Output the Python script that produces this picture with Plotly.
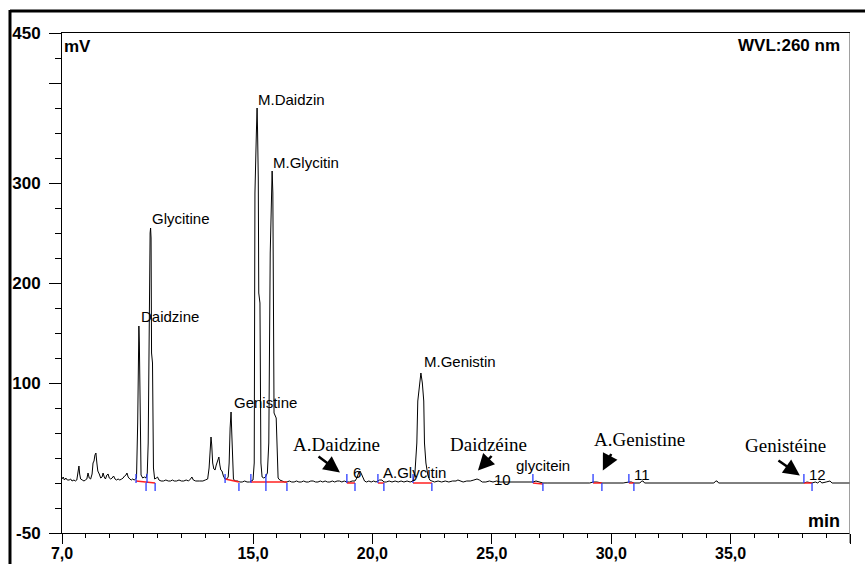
import plotly.graph_objects as go

# ---------------- data ----------------
time_min = [7.00, 7.05, 7.10, 7.16, 7.22, 7.30, 7.36, 7.42, 7.50, 7.56, 7.62, 7.68, 7.71, 7.74, 7.78,
            7.85, 7.92, 7.98, 8.04, 8.09, 8.14, 8.20, 8.26, 8.30, 8.34, 8.38, 8.42, 8.46, 8.50, 8.56,
            8.62, 8.68, 8.72, 8.77, 8.82, 8.88, 8.93, 8.98, 9.04, 9.10, 9.16, 9.22, 9.28, 9.35, 9.42,
            9.50, 9.56, 9.62, 9.68, 9.72, 9.77, 9.84, 9.90, 9.96, 10.02, 10.08,
            10.12, 10.17, 10.20, 10.22, 10.24, 10.27, 10.31, 10.38, 10.45, 10.52, 10.57, 10.61, 10.65,
            10.69, 10.71, 10.73, 10.75, 10.79, 10.83, 10.88, 10.95, 11.00, 11.06, 11.15, 11.25, 11.35,
            11.45, 11.55, 11.62, 11.70, 11.80, 11.90, 12.00, 12.10, 12.20, 12.30, 12.38, 12.44, 12.50,
            12.60, 12.75, 12.90, 13.00, 13.10, 13.16, 13.20, 13.24, 13.27, 13.31, 13.36, 13.41, 13.46,
            13.52, 13.57, 13.61, 13.65, 13.70, 13.76, 13.83, 13.90, 13.96, 14.00, 14.04, 14.08, 14.11,
            14.14, 14.18, 14.25, 14.35, 14.45, 14.55, 14.65, 14.75, 14.85, 14.92,
            15.00, 15.05, 15.08, 15.14, 15.17, 15.19, 15.22, 15.24, 15.29, 15.33, 15.38, 15.45, 15.52,
            15.60, 15.66, 15.72, 15.77, 15.80, 15.83, 15.86, 15.88, 15.97, 16.01, 16.05, 16.12, 16.22,
            16.32, 16.42, 16.52, 16.62, 16.72, 16.82, 16.92, 17.02, 17.12, 17.22, 17.32, 17.42, 17.52,
            17.62, 17.72, 17.82, 17.92, 18.02, 18.12, 18.22, 18.32, 18.42, 18.52, 18.62, 18.72, 18.82,
            18.93, 19.05, 19.15, 19.27, 19.35, 19.42, 19.48, 19.54, 19.60, 19.67, 19.75, 19.85, 19.95,
            20.05, 20.15, 20.23, 20.30, 20.40, 20.48, 20.58, 20.70, 20.82, 20.95, 21.08, 21.20, 21.32,
            21.45, 21.58, 21.70, 21.78, 21.86, 21.90, 21.97, 22.03, 22.09, 22.15, 22.18, 22.24, 22.32,
            22.40, 22.49, 22.60, 22.75, 22.90, 23.05, 23.20, 23.35, 23.50, 23.58, 23.66, 23.80, 23.95,
            24.10, 24.25, 24.38, 24.48, 24.60, 24.75, 24.90, 25.05, 25.20, 25.35, 25.50, 25.70, 25.90,
            26.10, 26.30, 26.50, 26.72, 26.85, 27.00, 27.14, 27.35, 27.60, 27.90, 28.20, 28.50, 28.80,
            29.10, 29.24, 29.40, 29.61, 29.90, 30.20, 30.50, 30.74, 30.85, 30.95, 31.20, 31.28, 31.33,
            31.40, 31.80, 32.30, 32.80, 33.30, 33.80, 34.30, 34.38, 34.43, 34.50, 35.00, 35.50, 36.00,
            36.50, 37.00, 37.50, 38.07, 38.20, 38.41, 38.55, 38.65, 38.74, 38.82, 39.00, 39.16, 39.25,
            39.50, 39.80, 40.00]
signal_mv = [4, 6, 3, 5, 3, 3, 4, 2, 3, 2, 3, 10, 17, 9, 4,
             3, 2, 3, 4, 10, 5, 4, 9, 20, 22, 28, 30, 20, 12, 9,
             5, 6, 10, 6, 4, 8, 9, 5, 4, 5, 7, 4, 3, 4, 3,
             4, 5, 7, 8, 10, 6, 4, 3, 4, 3, 4,
             5, 60, 150, 157, 140, 60, 8, 5, 6, 5, 10, 40, 180,
             250, 255, 245, 130, 120, 15, 4, 5, 6, 3, 2, 2, 3,
             2, 2, 3, 2, 2, 3, 2, 2, 3, 2, 4, 6, 3,
             2, 2, 2, 3, 4, 15, 38, 46, 38, 20, 14, 13, 18,
             22, 26, 18, 13, 12, 7, 4, 4, 6, 20, 55, 71, 50,
             15, 4, 2, 2, 1, 1, 2, 1, 1, 2,
             3, 20, 290, 350, 375, 352, 305, 190, 180, 20, 6, 5, 6,
             10, 40, 230, 295, 312, 290, 205, 70, 65, 20, 5, 3, 2,
             1, 1, 2, 1, 1, 2, 1, 1, 2, 1, 1, 2, 2,
             1, 1, 2, 1, 2, 1, 1, 2, 1, 2, 2, 1, 2,
             1, 1, 2, 2, 5, 10, 12, 9, 5, 2, 1, 2, 1,
             2, 1, 2, 3, 3, 1, 1, 2, 1, 2, 1, 2, 1,
             2, 1, 2, 10, 40, 82, 100, 110, 100, 82, 40, 20, 8,
             3, 2, 1, 2, 1, 2, 1, 2, 2, 3, 2, 1, 2,
             2, 3, 4, 3, 1, 1, 2, 1, 2, 1, 1, 1, 1,
             1, 1, 1, 1, 2, 1, 0, 0, 0, 0, 0, 0, 0,
             0, 1, 1, 0, 0, 0, 0, 1, 1, 0, 0, 2, 2,
             0, 0, 0, 0, 0, 0, 0, 2, 2, 0, 0, 0, 0,
             0, 0, 0, 0, 1, 0, 1, 0, 2, 0, 1, 2, 0,
             0, 0, 0]

# integration baselines (start time, start mV, end time, end mV)
base_t0 = [10.10, 13.83, 14.91, 18.93, 20.23, 21.70, 26.72, 29.24, 30.74, 38.07]
base_v0 = [2, 4, 1, 0, 0, 0, 0, 0, 0, 0]
base_t1 = [10.90, 14.41, 16.42, 19.27, 20.48, 22.49, 27.14, 29.61, 30.95, 38.41]
base_v1 = [0, 1, 1, 0, 0, 0, -1, 0, 0, 0]

# peak delimiter marks
start_marks = [10.10, 10.56, 13.83, 14.91, 15.54, 18.93, 20.23, 21.70, 26.72, 29.24, 30.74, 38.07]
end_marks = [10.52, 10.90, 14.41, 15.54, 16.42, 19.27, 20.48, 22.49, 27.14, 29.61, 30.95, 38.41]

# peak names (Arial) and label anchor
peak_names = ["Daidzine", "Glycitine", "Genistine", "M.Daidzin", "M.Glycitin", "6",
              "A.Glycitin", "M.Genistin", "10", "glycitein", "11", "12"]
peak_label_t = [10.27, 10.73, 14.16, 15.17, 15.79, 19.14, 20.40, 22.12, 25.05, 25.97, 30.91, 38.24]
peak_label_v = [167, 265, 81, 384, 321, 11, 10.5, 122, 3.5, 18, 9, 9]

# arrowed names (Times)
arrow_names = ["A.Daidzine", "Daidzéine", "A.Genistine", "Genistéine"]
arrow_label_t = [16.63, 23.21, 29.24, 35.56]
arrow_label_v = [39, 39, 44, 38]
arrow_head_t = [18.64, 24.42, 29.65, 37.90]
arrow_head_v = [10.5, 12.5, 12.5, 7.5]
arrow_tail_t = [17.68, 25.05, 30.03, 36.94]
arrow_tail_v = [27.5, 28.5, 30.5, 23.5]

x_tick_vals = [7, 15, 20, 25, 30, 35, 40]
x_tick_text = ["7,0", "15,0", "20,0", "25,0", "30,0", "35,0", "40,0"]
y_tick_vals = [-50, 100, 200, 300, 400, 450]
y_tick_text = ["-50", "100", "200", "300", "", "450"]

# ---------------- figure ----------------
fig = go.Figure()

fig.add_trace(go.Scatter(x=time_min, y=signal_mv, mode="lines",
                         line=dict(color="black", width=1), hoverinfo="skip"))

# red baselines
rx, ry = [], []
for a, va, b, vb in zip(base_t0, base_v0, base_t1, base_v1):
    rx += [a, b, None]
    ry += [va, vb, None]
fig.add_trace(go.Scatter(x=rx, y=ry, mode="lines", line=dict(color="#ff2020", width=1.5),
                         hoverinfo="skip"))

# blue marks
bx, by = [], []
for t in start_marks:
    bx += [t, t, None]
    by += [0, 9, None]
for t in end_marks:
    bx += [t, t, None]
    by += [0, -8, None]
fig.add_trace(go.Scatter(x=bx, y=by, mode="lines", line=dict(color="#2a3cff", width=1.3),
                         hoverinfo="skip"))

ann = []
for name, t, v in zip(peak_names, peak_label_t, peak_label_v):
    ann.append(dict(x=t, y=v, xref="x", yref="y", text=name, showarrow=False,
                    xanchor="left", yanchor="middle", borderpad=0,
                    font=dict(family="Liberation Sans, Arial", size=15, color="black")))
for name, t, v in zip(arrow_names, arrow_label_t, arrow_label_v):
    ann.append(dict(x=t, y=v, xref="x", yref="y", text=name, showarrow=False,
                    xanchor="left", yanchor="middle", borderpad=0,
                    font=dict(family="Liberation Serif, Times New Roman", size=19, color="black")))
for ht, hv, tt, tv in zip(arrow_head_t, arrow_head_v, arrow_tail_t, arrow_tail_v):
    ann.append(dict(x=ht, y=hv, xref="x", yref="y", ax=tt, ay=tv, axref="x", ayref="y",
                    text="", showarrow=True, arrowhead=2, arrowsize=1.3, arrowwidth=2.5,
                    arrowcolor="black", standoff=0))

ann.append(dict(x=0, y=1, xref="paper", yref="paper", text="<b>mV</b>", showarrow=False,
                xanchor="left", yanchor="top", xshift=0, yshift=-2,
                font=dict(family="Liberation Sans, Arial", size=17, color="black")))
ann.append(dict(x=1, y=1, xref="paper", yref="paper", text="<b>WVL:260 nm</b>", showarrow=False,
                xanchor="right", yanchor="top", xshift=-8, yshift=-1,
                font=dict(family="Liberation Sans, Arial", size=17, color="black")))
ann.append(dict(x=1, y=0, xref="paper", yref="paper", text="<b>min</b>", showarrow=False,
                xanchor="right", yanchor="bottom", xshift=-8, yshift=0,
                font=dict(family="Liberation Sans, Arial", size=18, color="black")))

shapes = [
    # outer frame
    dict(type="line", xref="paper", yref="paper", x0=-0.066, x1=1.03, y0=1.044, y1=1.044,
         line=dict(color="black", width=3)),
    dict(type="line", xref="paper", yref="paper", x0=-0.066, x1=-0.066, y0=1.046, y1=-0.08,
         line=dict(color="black", width=3)),
    # right border
    dict(type="line", xref="x", yref="paper", x0=40, x1=40, y0=-0.02, y1=1,
         line=dict(color="#808080", width=1.5), layer="above"),
]

fig.update_layout(
    width=865, height=564,
    margin=dict(l=62, r=15, t=33, b=31, autoexpand=False),
    paper_bgcolor="white", plot_bgcolor="white",
    showlegend=False,
    annotations=ann, shapes=shapes,
    xaxis=dict(range=[7, 40], showgrid=False, zeroline=False, automargin=False,
               showline=True, linecolor="black", linewidth=1, mirror=True,
               tickmode="array", tickvals=x_tick_vals, ticktext=x_tick_text,
               ticks="outside", ticklen=10, tickcolor="black", tickwidth=1,
               ticklabelstandoff=-4,
               tickfont=dict(family="Liberation Sans, Arial", size=16, color="black", weight="bold"),
               minor=dict(tickmode="linear", tick0=7, dtick=1, ticks="outside", ticklen=4,
                          tickcolor="black", tickwidth=1, showgrid=False)),
    yaxis=dict(range=[-50, 450], showgrid=False, zeroline=False, automargin=False,
               showline=True, linecolor="black", linewidth=1, mirror=False,
               tickmode="array", tickvals=y_tick_vals, ticktext=y_tick_text,
               ticks="outside", ticklen=12, tickcolor="black", tickwidth=1,
               ticklabelstandoff=5,
               tickfont=dict(family="Liberation Sans, Arial", size=17, color="black", weight="bold"),
               minor=dict(tickmode="linear", tick0=0, dtick=25, ticks="outside", ticklen=6,
                          tickcolor="black", tickwidth=1, showgrid=False)),
)

fig.write_html("out.html", config={"displayModeBar": False},
               post_script="document.body.style.margin='0';document.body.style.padding='0';")
